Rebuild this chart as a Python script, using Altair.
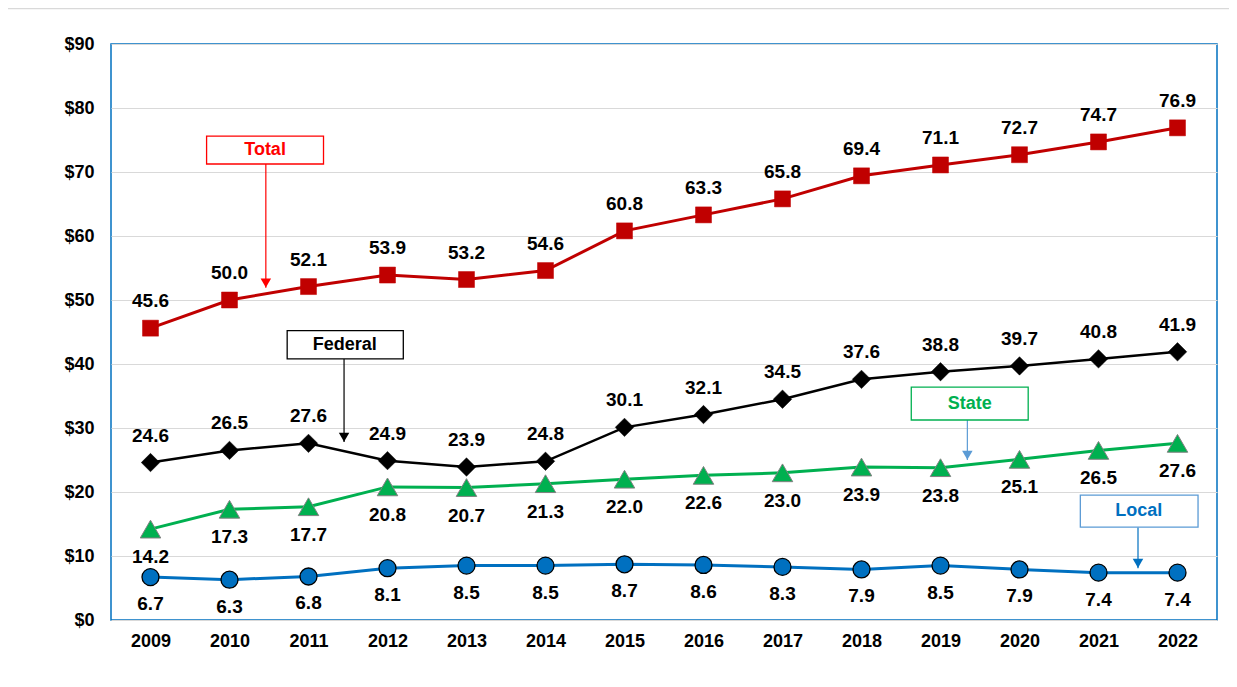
import altair as alt
import pandas as pd

years = list(range(2009, 2023))
total = [45.6, 50.0, 52.1, 53.9, 53.2, 54.6, 60.8, 63.3, 65.8, 69.4, 71.1, 72.7, 74.7, 76.9]
federal = [24.6, 26.5, 27.6, 24.9, 23.9, 24.8, 30.1, 32.1, 34.5, 37.6, 38.8, 39.7, 40.8, 41.9]
state = [14.2, 17.3, 17.7, 20.8, 20.7, 21.3, 22.0, 22.6, 23.0, 23.9, 23.8, 25.1, 26.5, 27.6]
local = [6.7, 6.3, 6.8, 8.1, 8.5, 8.5, 8.7, 8.6, 8.3, 7.9, 8.5, 7.9, 7.4, 7.4]

y_ticks = [0, 10, 20, 30, 40, 50, 60, 70, 80, 90]

ann_labels = ["Total", "Federal", "State", "Local"]
ann_xc = [2010.45, 2011.46, 2019.37, 2021.51]
ann_x1 = [2009.71, 2010.73, 2018.63, 2020.77]
ann_x2 = [2011.19, 2012.20, 2020.11, 2022.26]
ann_ytop = [75.6, 45.2, 36.4, 19.5]
ann_ybot = [71.25, 40.8, 31.25, 14.5]
ann_yc = [73.4, 43.0, 33.8, 17.0]
arrow_x = [2010.46, 2011.45, 2019.34, 2021.50]
arrow_end = [51.9, 27.8, 25.0, 8.1]
box_stroke = ["#FF0000", "#000000", "#00B050", "#5B9BD5"]
text_color = ["#FF0000", "#000000", "#00B050", "#0070C0"]
arrow_color = ["#FF0000", "#000000", "#5B9BD5", "#0070C0"]

FONT = "Liberation Sans"

x_scale = alt.Scale(domain=[2008.5, 2022.5], nice=False, zero=False)
y_scale = alt.Scale(domain=[0, 90], nice=False)


def series_layers(vals, color, shape, size, stroke, stroke_w, label_dy, line_w):
    df = pd.DataFrame({"year": years, "value": vals,
                       "label": [f"{v:.1f}" for v in vals]})
    base = alt.Chart(df)
    x = alt.X("year:Q", scale=x_scale,
              axis=alt.Axis(values=years, format="d", title=None, grid=False,
                            ticks=False, domain=False, labelPadding=12,
                            labelFontSize=18, labelFontWeight="bold",
                            labelFont=FONT, labelColor="#000000"))
    y = alt.Y("value:Q", scale=y_scale,
              axis=alt.Axis(values=y_ticks, title=None, grid=True,
                            gridColor="#D9D9D9", gridWidth=1, ticks=False,
                            domain=False, labelPadding=17,
                            labelExpr="'$' + datum.value",
                            labelFontSize=18, labelFontWeight="bold",
                            labelFont=FONT, labelColor="#000000"))
    line = base.mark_line(color=color, strokeWidth=line_w).encode(x=x, y=y)
    pts = base.mark_point(shape=shape, size=size, filled=True, fill=color,
                          stroke=stroke, strokeWidth=stroke_w, opacity=1).encode(x=x, y=y)
    txt = base.mark_text(fontSize=19, fontWeight="bold", font=FONT, color="#000000",
                         dy=label_dy, baseline="middle").encode(x=x, y=y, text="label:N")
    return [line, pts, txt]


layers = []
layers += series_layers(total, "#C00000", "square", 256, "#C00000", 0.5, -27, 3)
layers += series_layers(federal, "#000000", "diamond", 340, "#000000", 0.5, -27, 2.5)
layers += series_layers(state, "#00B050", "triangle-up", 420, "#808080", 1, 28, 3)
layers += series_layers(local, "#0070C0", "circle", 289, "#000000", 1.3, 27, 3)

ann = pd.DataFrame({
    "label": ann_labels, "xc": ann_xc, "x1": ann_x1, "x2": ann_x2,
    "ytop": ann_ytop, "ybot": ann_ybot, "yc": ann_yc,
    "ax": arrow_x, "aend": arrow_end,
    "ahead": [v + 0.75 for v in arrow_end],
    "bstroke": box_stroke, "tcolor": text_color, "acolor": arrow_color,
})
ab = alt.Chart(ann)
rects = ab.mark_rect(fill="white", strokeWidth=1.3).encode(
    x=alt.X("x1:Q", scale=x_scale), x2="x2:Q",
    y=alt.Y("ytop:Q", scale=y_scale), y2="ybot:Q",
    stroke=alt.Stroke("bstroke:N", scale=None))
atext = ab.mark_text(fontSize=18, fontWeight="bold", font=FONT, baseline="middle").encode(
    x=alt.X("xc:Q", scale=x_scale), y=alt.Y("yc:Q", scale=y_scale), text="label:N",
    color=alt.Color("tcolor:N", scale=None))
arules = ab.mark_rule(strokeWidth=1.2).encode(
    x=alt.X("ax:Q", scale=x_scale), y=alt.Y("ybot:Q", scale=y_scale), y2="aend:Q",
    color=alt.Color("acolor:N", scale=None))
aheads = ab.mark_point(shape="triangle-down", size=110, filled=True, opacity=1).encode(
    x=alt.X("ax:Q", scale=x_scale), y=alt.Y("ahead:Q", scale=y_scale),
    color=alt.Color("acolor:N", scale=None))

frame = alt.Chart(pd.DataFrame({"k": [0]})).mark_rule(color="#D9D9D9", strokeWidth=1.5).encode(
    x=alt.value(-103), x2=alt.value(1130), y=alt.value(-35.5))

chart = alt.layer(frame, *layers, arules, aheads, rects, atext).properties(
    width=1106, height=576,
    background="white",
    autosize=alt.AutoSizeParams(type="none"),
    padding={"left": 103, "top": 36, "right": 12, "bottom": 59},
).configure_view(stroke="#0070C0", strokeWidth=1.5)

chart.save("out.html", embed_options={"renderer": "svg", "actions": False})
